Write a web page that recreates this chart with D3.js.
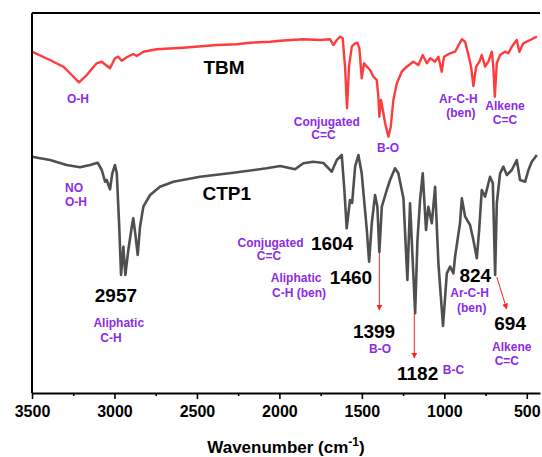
<!DOCTYPE html>
<html><head><meta charset="utf-8">
<script src="https://cdn.jsdelivr.net/npm/d3@7"></script>
<style>
html,body{margin:0;padding:0;background:#fff;}
svg{display:block;font-family:"Liberation Sans",Arial,sans-serif;}
</style></head>
<body><svg id="c" width="542" height="457"></svg>
<script>
// ---- data (wavenumber in cm-1, transmittance in arbitrary offset units) ----
const tbmWn = [3500,3391,3310,3259,3215,3168,3108,3077,3047,3027,2997,2977,2956,2926,2886,2865,2825,2744,2582,2380,2259,2178,2057,1996,1855,1754,1693,1673,1652,1632,1616,1602,1590,1578,1561,1541,1527,1515,1501,1487,1470,1450,1430,1410,1400,1394,1384,1373,1359,1339,1325,1309,1288,1258,1228,1188,1157,1131,1106,1086,1056,1036,1016,1002,965,935,894,874,854,838,824,807,787,773,753,733,712,703,694,682,662,632,612,591,561,545,521,480,439];
const tbmT = [341.3,333,326.3,318,310.7,318,329.7,331.3,327.3,324.7,334.7,336.3,332.3,335.7,339,337,341.3,343.7,345.3,348,348.7,350.3,351.3,352.3,353.7,353,353.7,348,353,356.3,354.7,326.3,284.7,326.3,346.3,349.7,350.3,344.7,314.7,329.7,326.3,323,316.3,313,296.3,276.3,293,283,269.7,256.3,266.3,293,309.7,321.3,326.3,331.3,328,338,329.7,334.7,331.3,336.3,321.3,336.3,339.7,341.3,353.7,351.3,338,326.3,307,326.3,331.3,338,326.3,331.3,341.3,326.3,296.3,329.7,338,341.3,339.7,346.3,353,341.3,349.7,353,356.3];
const ctpWn = [3500,3391,3290,3209,3148,3102,3077,3057,3047,3027,3013,2997,2986,2972,2960,2946,2934,2916,2895,2886,2874,2859,2845,2825,2784,2724,2643,2481,2279,2077,1996,1905,1855,1794,1733,1683,1652,1622,1606,1592,1572,1559,1541,1521,1501,1470,1456,1440,1420,1406,1394,1379,1349,1329,1299,1279,1248,1224,1208,1177,1163,1147,1131,1111,1097,1076,1056,1036,1008,985,965,945,935,905,894,874,844,824,803,789,773,753,723,706,692,682,662,642,621,591,561,541,510,490,470,439];
const ctpT = [236.3,233,228,225.7,228,230.3,223,211.3,213,203.7,219.7,228,219.7,169.7,118,146.3,118,143,166.3,174.7,159.7,138,166.3,186.3,198,206.3,211.3,216.3,220.3,224.7,227,223.7,229.7,231.3,230,221.3,233,238,203,164.7,193,190,226.3,238,219.7,163,131.3,169.7,198,186.3,141,186.3,203,213,224.7,219.7,194.7,113,189.7,79.7,153,193,219.7,163,186.3,169.7,206.3,129.7,67,119.7,126.3,119.7,136.3,169.7,194.7,176.3,168,153,134.7,163,203,196.3,216.3,209.7,118,189.7,219.7,226.3,218,223,233,213,211.3,223,231.3,238];

const majorTicks = [3500,3000,2500,2000,1500,1000,500];
const minorTicks = [3250,2750,2250,1750,1250,750];
const xTitle = "Wavenumber (cm";
const xTitleSup = "-1";

// series labels / peak numbers / assignments
const labelText = ["TBM","O-H","Conjugated","C=C","B-O","Ar-C-H","(ben)","Alkene","C=C",
  "NO","O-H","CTP1","2957","Aliphatic","C-H","Conjugated","C=C","1604","Aliphatic","C-H (ben)","1460",
  "1399","B-O","1182","B-C","824","Ar-C-H","(ben)","694","Alkene","C=C"];
const labelWn = [2336,3221,1713,1733,1341,915,900,632,632,
  3300,3300,2319,2991,2974,3021,2054,2063,1681,1899,1881,1566,
  1426,1390,1162,1009,812,847,834,601,591,621];
const labelT = [319,290,267,254,241,290,276,283,269,
  201,187,193,91,66,51,146,133,143,111,96,109,
  55,40,13,19,111,96,81,63,42,28];
const labelKind = ["name","asg","asg","asg","asg","asg","asg","asg","asg",
  "asg","asg","name","num","asg","asg","asg","asg","num","asg","asg","num",
  "num","asg","num","asg","num","asg","asg","num","asg","asg"];
const labelAnchor = ["middle","middle","middle","middle","middle","middle","middle","middle","middle",
  "start","start","middle","middle","middle","middle","middle","middle","middle","middle","middle","middle",
  "middle","middle","middle","start","middle","middle","middle","middle","middle","middle"];

// arrows: from (wn,T) to (wn,T)
const arrowFromWn = [1394,1182,682];
const arrowFromT  = [140,80,116];
const arrowToWn   = [1394,1182,622];
const arrowToT    = [83,35,84];

// ---- drawing ----
const svg = d3.select("#c");
const x = d3.scaleLinear().domain([3500,420]).range([32,540]);
const y = d3.scaleLinear().domain([0,380]).range([393,13]);

const line = d3.line().x(d=>x(d[0])).y(d=>y(d[1])).curve(d3.curveLinear);

svg.append("path").datum(d3.zip(tbmWn,tbmT))
  .attr("d",line).attr("fill","none").attr("stroke","#ff3b3b")
  .attr("stroke-width",2.4).attr("stroke-linejoin","round");
svg.append("path").datum(d3.zip(ctpWn,ctpT))
  .attr("d",line).attr("fill","none").attr("stroke","#4f4f4f")
  .attr("stroke-width",2.6).attr("stroke-linejoin","round");

// frame (left + top)
svg.append("line").attr("x1",x(3500)).attr("x2",x(3500)).attr("y1",y(380)).attr("y2",y(0))
  .attr("stroke","#000").attr("stroke-width",2);
svg.append("line").attr("x1",x(3500)).attr("x2",x(420)).attr("y1",y(380)).attr("y2",y(380))
  .attr("stroke","#000").attr("stroke-width",2);

// bottom axis
const ax = svg.append("g").attr("transform",`translate(0,${y(0)})`)
  .call(d3.axisBottom(x).tickValues(majorTicks).tickSize(6).tickSizeOuter(0).tickPadding(7).tickFormat(d3.format("d")));
ax.select(".domain").attr("stroke","#000").attr("stroke-width",2);
ax.selectAll(".tick line").attr("stroke","#000").attr("stroke-width",1.6);
ax.selectAll(".tick text").attr("font-size",16).attr("font-weight","bold").attr("fill","#000")
  .attr("font-family","'Liberation Sans',Arial,sans-serif");
const axm = svg.append("g").attr("transform",`translate(0,${y(0)})`)
  .call(d3.axisBottom(x).tickValues(minorTicks).tickSize(3).tickSizeOuter(0).tickFormat(""));
axm.select(".domain").remove();
axm.selectAll(".tick line").attr("stroke","#000").attr("stroke-width",1.6);

const title = svg.append("text").attr("x",(x(3500)+x(420))/2).attr("y",453)
  .attr("text-anchor","middle").attr("font-size",17).attr("font-weight","bold").attr("fill","#000");
title.append("tspan").text(xTitle);
title.append("tspan").attr("font-size",12).attr("dy",-7).text(xTitleSup);
title.append("tspan").attr("dy",7).text(")");

// arrows
svg.append("defs").append("marker").attr("id","ah").attr("viewBox","0 0 10 10")
  .attr("refX",9).attr("refY",5).attr("markerWidth",6).attr("markerHeight",6)
  .attr("markerUnits","userSpaceOnUse").attr("orient","auto")
  .append("path").attr("d","M0,0L10,5L0,10Z").attr("fill","#ff2020");
svg.selectAll(".arr").data(d3.range(arrowFromWn.length)).join("line")
  .attr("x1",i=>x(arrowFromWn[i])).attr("y1",i=>y(arrowFromT[i]))
  .attr("x2",i=>x(arrowToWn[i])).attr("y2",i=>y(arrowToT[i]))
  .attr("stroke","#ff2020").attr("stroke-width",1).attr("marker-end","url(#ah)");

// labels
const sizes = {name:19, num:19, asg:12};
const colors = {name:"#000", num:"#000", asg:"#8b2be8"};
svg.selectAll(".lbl").data(d3.range(labelText.length)).join("text")
  .attr("x",i=>x(labelWn[i])).attr("y",i=>y(labelT[i]))
  .attr("text-anchor",i=>labelAnchor[i])
  .attr("font-size",i=>sizes[labelKind[i]])
  .attr("font-weight","bold")
  .attr("fill",i=>colors[labelKind[i]])
  .text(i=>labelText[i]);
</script></body></html>
